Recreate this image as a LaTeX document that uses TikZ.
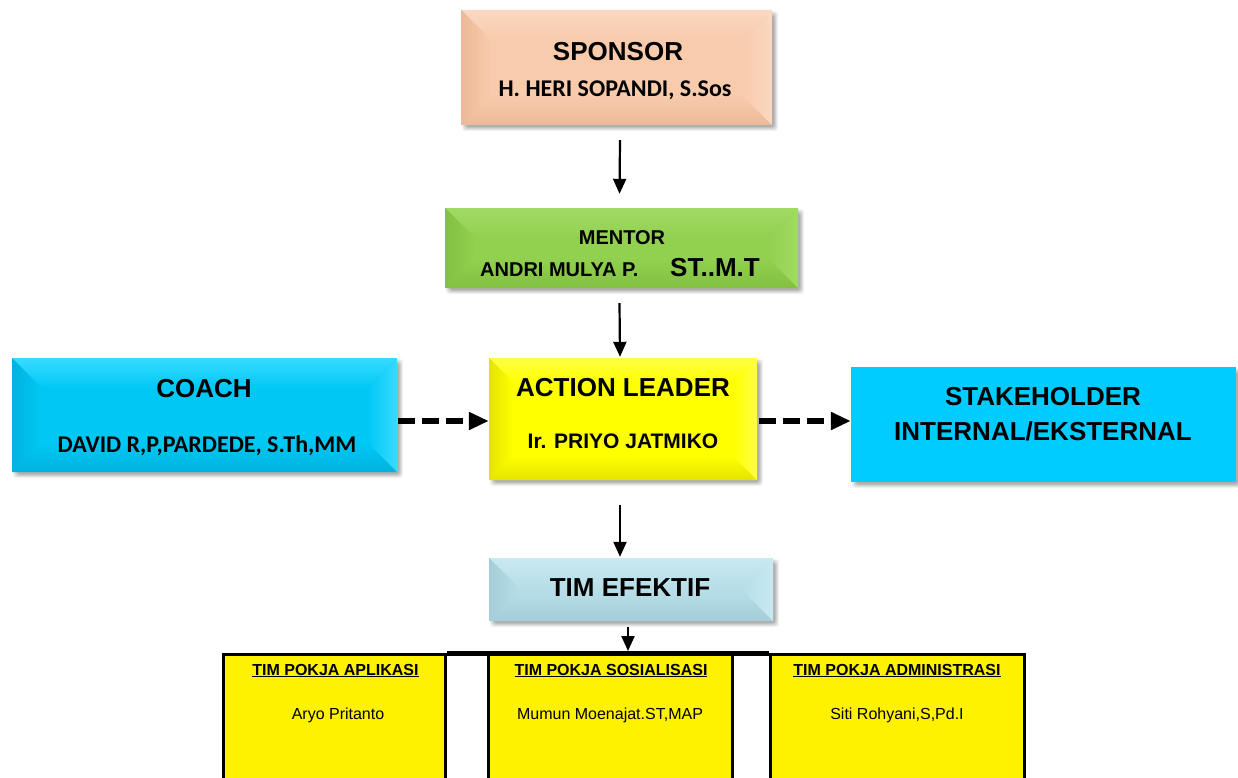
\documentclass[tikz,border=0pt]{standalone}
\usepackage{fontspec}
\setmainfont{Liberation Sans}
\newfontfamily\calfont{Carlito}
\usetikzlibrary{arrows.meta}
\definecolor{spF}{HTML}{F8CBAD}\definecolor{spD}{HTML}{EBBA98}\definecolor{spL}{HTML}{FAD8C0}
\definecolor{mnF}{HTML}{92D050}\definecolor{mnD}{HTML}{82C042}\definecolor{mnL}{HTML}{A2DA66}
\definecolor{alF}{HTML}{FFFF00}\definecolor{alD}{HTML}{E4E400}\definecolor{alL}{HTML}{FFFF48}
\definecolor{coF}{HTML}{00C8F5}\definecolor{coD}{HTML}{00B2DE}\definecolor{coL}{HTML}{38DBFF}
\definecolor{stF}{HTML}{00CCFF}
\definecolor{teF}{HTML}{B7DEE8}\definecolor{teD}{HTML}{A4CDD9}\definecolor{teL}{HTML}{C9E9F1}
\newcommand\softshadow[4]{%
  \foreach \k/\op in {6/0.05,5/0.06,4/0.07,3/0.08,2/0.09}{%
    \fill[black,opacity=\op,rounded corners=3pt] ({#1+7-\k},{#2+7-\k}) rectangle ({#3+\k},{#4+\k});}}
\newcommand\bevbox[9]{%
  \softshadow{#2}{#3}{#4}{#5}%
  \fill[#6] (#2,#3) rectangle (#4,#5);
  \shade[top color=#8,bottom color=#6] (#2,#3) -- (#4,#3) -- ({#4-#9},{#3+#9}) -- ({#2+#9},{#3+#9}) -- cycle;
  \shade[top color=#6,bottom color=#7] (#2,#5) -- (#4,#5) -- ({#4-#9},{#5-#9}) -- ({#2+#9},{#5-#9}) -- cycle;
  \shade[left color=#7,right color=#6] (#2,#3) -- ({#2+#9},{#3+#9}) -- ({#2+#9},{#5-#9}) -- (#2,#5) -- cycle;
  \shade[left color=#6,right color=#8] (#4,#3) -- ({#4-#9},{#3+#9}) -- ({#4-#9},{#5-#9}) -- (#4,#5) -- cycle;
  \fill[#6] ({#2+#9},{#3+#9}) rectangle ({#4-#9},{#5-#9});
  \node[minimum width={#4-#2},minimum height={#5-#3},inner sep=0] (#1) at ({(#2+#4)/2},{(#3+#5)/2}) {};}
\begin{document}
\begin{tikzpicture}[x=1pt,y=-1pt,
  big/.style={font=\fontsize{26}{30}\selectfont\bfseries,anchor=base,inner sep=0},
  mid/.style={font=\fontsize{20}{24}\selectfont\bfseries,anchor=base,inner sep=0},
  cal/.style={font=\calfont\fontsize{24}{28}\selectfont\bfseries,anchor=base,inner sep=0},
  head/.style={font=\fontsize{16}{19}\selectfont\bfseries,anchor=base,inner sep=0},
  pname/.style={font=\fontsize{16}{19}\selectfont,anchor=base,inner sep=0},
  pbox/.style={draw=black,line width=3pt,fill=yellow,inner sep=0},
  arr/.style={-{Triangle[length=15pt,width=13pt]},line width=2.2pt},
  darr/.style={-{Triangle[length=20pt,width=17pt]},line width=5.5pt,dash pattern=on 17pt off 7pt}]
\useasboundingbox (0,0) rectangle (1238,778);
\clip (0,0) rectangle (1238,778);
\fill[white] (0,0) rectangle (1238,778);

% boxes
\bevbox{sponsor}{461}{10}{772}{125}{spF}{spD}{spL}{30}
\node[big] (spT) at (618,61) {SPONSOR};
\node[cal] (spN) at (615,97) {H. HERI SOPANDI, S.Sos};

\bevbox{mentor}{445}{208}{798}{288}{mnF}{mnD}{mnL}{30}
\node[mid] (mnT) at (622,244) {MENTOR};
\node[mid,anchor=base west] (mnN) at (480,276) {ANDRI MULYA P.};
\node[big,anchor=base west] (mnS) at (670,276) {ST..M.T};

\bevbox{action}{489}{358}{757}{480}{alF}{alD}{alL}{24}
\node[big] (alT) at (623,396) {ACTION LEADER};
\node[font=\fontsize{21}{24}\selectfont\bfseries,anchor=base,inner sep=0] (alN) at (623,448) {Ir. PRIYO JATMIKO};

\bevbox{coach}{12}{358}{397}{472}{coF}{coD}{coL}{30}
\node[big] (coT) at (204,397) {COACH};
\node[cal] (coN) at (207,452) {DAVID R,P,PARDEDE, S.Th,MM};

\softshadow{851}{367}{1236}{482}
\node[fill=stF,minimum width=385,minimum height=115,inner sep=0] (stake) at (1043.5,424.5) {};
\node[big] (stT) at (1043,405) {STAKEHOLDER};
\node[big] (stN) at (1043,440) {INTERNAL/EKSTERNAL};

\bevbox{tim}{489}{558}{773}{621}{teF}{teD}{teL}{30}
\node[big] (teT) at (630,596) {TIM EFEKTIF};

% bottom boxes
\node[pbox,minimum width=222,minimum height=150] (pa) at (334.5,729) {};
\node[pbox,minimum width=244,minimum height=150] (ps) at (610.5,729) {};
\node[pbox,minimum width=254,minimum height=150] (pd) at (897.5,729) {};
\draw[line width=5pt] ([yshift=-1pt]pa.north east) -- ([yshift=-1pt]pd.north west);
\coordinate (barpt) at (628,651);

\node[head] (paH) at (335.5,675) {\underline{TIM POKJA APLIKASI}};
\node[pname] (paN) at (338,719) {Aryo Pritanto};
\node[head] (psH) at (611,675) {\underline{TIM POKJA SOSIALISASI}};
\node[pname] (psN) at (610,719) {Mumun Moenajat.ST,MAP};
\node[head] (pdH) at (897,675) {\underline{TIM POKJA ADMINISTRASI}};
\node[pname] (pdN) at (897,719) {Siti Rohyani,S,Pd.I};

% connectors
\draw[arr] ([xshift=3.5pt,yshift=-15pt]sponsor.south) -- ([xshift=-2pt,yshift=14pt]mentor.north);
\draw[arr] ([xshift=-2pt,yshift=-15pt]mentor.south) -- ([xshift=-3pt,yshift=1pt]action.north);
\draw[arr] ([xshift=-3pt,yshift=-25pt]action.south) -- ([xshift=-11pt,yshift=1pt]tim.north);
\draw[arr] ([xshift=-3pt,yshift=-6pt]tim.south) -- (barpt);
\draw[darr] ([xshift=1pt,yshift=-6pt]coach.east) -- ([yshift=-2pt]action.west);
\draw[darr] ([xshift=2pt,yshift=-2pt]action.east) -- ([yshift=3.5pt]stake.west);
\end{tikzpicture}
\end{document}
